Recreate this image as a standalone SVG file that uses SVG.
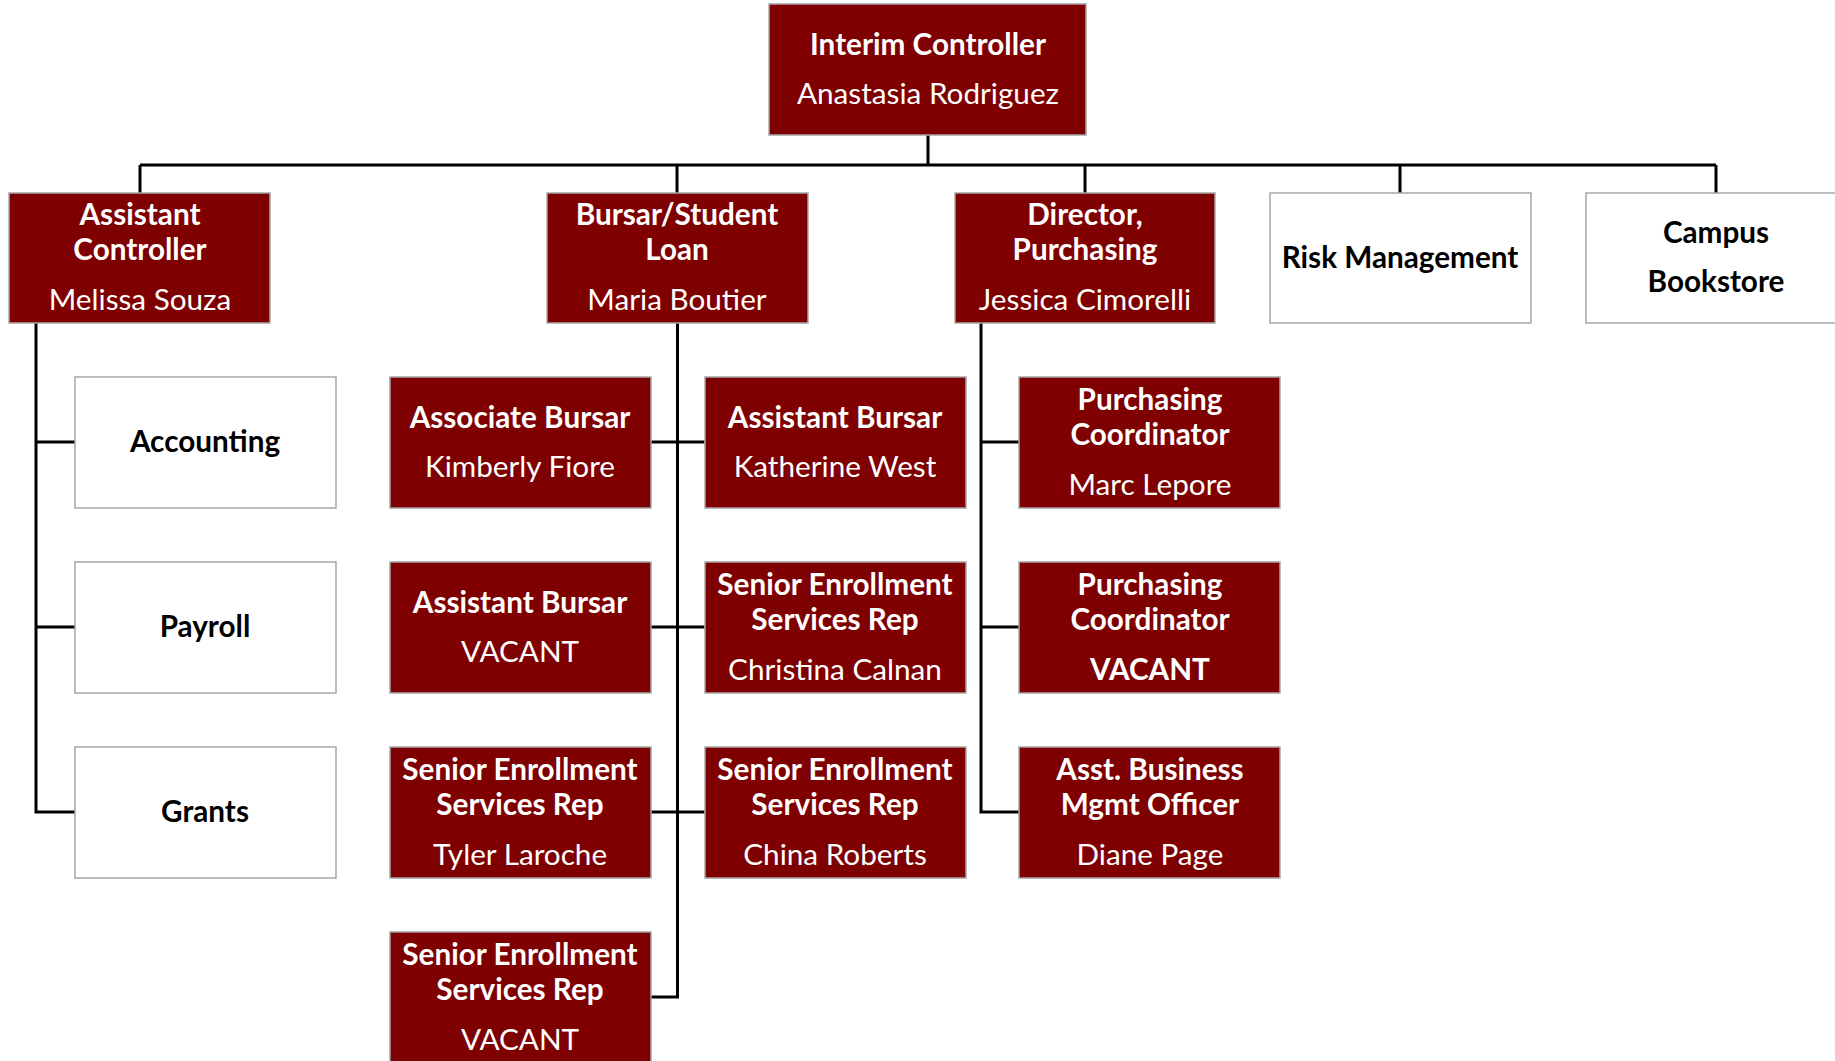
<svg xmlns="http://www.w3.org/2000/svg" width="1835" height="1061" viewBox="0 0 1835 1061">
<style>
.d{fill:#7f0000;stroke:#a6a6a6;stroke-width:1.5}
.w{fill:#ffffff;stroke:#a6a6a6;stroke-width:1.5}
text{font-family:Lato,"Open Sans","Liberation Sans",sans-serif;font-size:29.7px;text-anchor:middle}
.t{font-weight:bold;fill:#ffffff}
.n{fill:#ffffff}
.b{font-weight:bold;fill:#000000}
.c{fill:none;stroke:#000000;stroke-width:3}
</style>
<rect width="1835" height="1061" fill="#ffffff"/>
<g id="connectors">
<path class="c" d="M928,135V165M140,165H1716M140,165V193M677,165V193M1085,165V193M1400,165V193M1716,165V193"/>
<path class="c" d="M36,323V812H75M36,442H75M36,627H75"/>
<path class="c" d="M677.5,323V997H651M651,442H704.5M651,627H704.5M651,812H704.5"/>
<path class="c" d="M981,323V812H1019M981,442H1019M981,627H1019"/>
</g>
<g id="interim-controller"><rect class="d" x="769" y="4" width="317" height="131"/><text class="t" x="928" y="55">Interim Controller</text><text class="n" x="928" y="104">Anastasia Rodriguez</text></g>
<g id="assistant-controller"><rect class="d" x="9" y="193" width="261" height="130"/><text class="t" x="140" y="225">Assistant</text><text class="t" x="140" y="260">Controller</text><text class="n" x="140" y="310">Melissa Souza</text></g>
<g id="bursar"><rect class="d" x="547" y="193" width="261" height="130"/><text class="t" x="677" y="225">Bursar/Student</text><text class="t" x="677" y="260">Loan</text><text class="n" x="677" y="310">Maria Boutier</text></g>
<g id="director-purchasing"><rect class="d" x="955" y="193" width="260" height="130"/><text class="t" x="1085" y="225">Director,</text><text class="t" x="1085" y="260">Purchasing</text><text class="n" x="1085" y="310">Jessica Cimorelli</text></g>
<g id="risk-management"><rect class="w" x="1270" y="193" width="261" height="130"/><text class="b" x="1400" y="268">Risk Management</text></g>
<g id="campus-bookstore"><rect class="w" x="1586" y="193" width="262" height="130"/><text class="b" x="1716" y="243">Campus</text><text class="b" x="1716" y="292">Bookstore</text></g>
<g id="accounting"><rect class="w" x="75" y="377" width="261" height="131"/><text class="b" x="205" y="452">Accounting</text></g>
<g id="payroll"><rect class="w" x="75" y="562" width="261" height="131"/><text class="b" x="205" y="637">Payroll</text></g>
<g id="grants"><rect class="w" x="75" y="747" width="261" height="131"/><text class="b" x="205" y="822">Grants</text></g>
<g id="associate-bursar"><rect class="d" x="390" y="377" width="261" height="131"/><text class="t" x="520" y="428">Associate Bursar</text><text class="n" x="520" y="477">Kimberly Fiore</text></g>
<g id="assistant-bursar-vacant"><rect class="d" x="390" y="562" width="261" height="131"/><text class="t" x="520" y="613">Assistant Bursar</text><text class="n" x="520" y="662">VACANT</text></g>
<g id="ser-tyler"><rect class="d" x="390" y="747" width="261" height="131"/><text class="t" x="520" y="780">Senior Enrollment</text><text class="t" x="520" y="815">Services Rep</text><text class="n" x="520" y="865">Tyler Laroche</text></g>
<g id="ser-vacant"><rect class="d" x="390" y="932" width="261" height="131"/><text class="t" x="520" y="965">Senior Enrollment</text><text class="t" x="520" y="1000">Services Rep</text><text class="n" x="520" y="1050">VACANT</text></g>
<g id="assistant-bursar-west"><rect class="d" x="705" y="377" width="261" height="131"/><text class="t" x="835" y="428">Assistant Bursar</text><text class="n" x="835" y="477">Katherine West</text></g>
<g id="ser-christina"><rect class="d" x="705" y="562" width="261" height="131"/><text class="t" x="835" y="595">Senior Enrollment</text><text class="t" x="835" y="630">Services Rep</text><text class="n" x="835" y="680">Christina Calnan</text></g>
<g id="ser-china"><rect class="d" x="705" y="747" width="261" height="131"/><text class="t" x="835" y="780">Senior Enrollment</text><text class="t" x="835" y="815">Services Rep</text><text class="n" x="835" y="865">China Roberts</text></g>
<g id="purchasing-coordinator-marc"><rect class="d" x="1019" y="377" width="261" height="131"/><text class="t" x="1150" y="410">Purchasing</text><text class="t" x="1150" y="445">Coordinator</text><text class="n" x="1150" y="495">Marc Lepore</text></g>
<g id="purchasing-coordinator-vacant"><rect class="d" x="1019" y="562" width="261" height="131"/><text class="t" x="1150" y="595">Purchasing</text><text class="t" x="1150" y="630">Coordinator</text><text class="t" x="1150" y="680">VACANT</text></g>
<g id="asst-business-mgmt"><rect class="d" x="1019" y="747" width="261" height="131"/><text class="t" x="1150" y="780">Asst. Business</text><text class="t" x="1150" y="815">Mgmt Officer</text><text class="n" x="1150" y="865">Diane Page</text></g>
</svg>
